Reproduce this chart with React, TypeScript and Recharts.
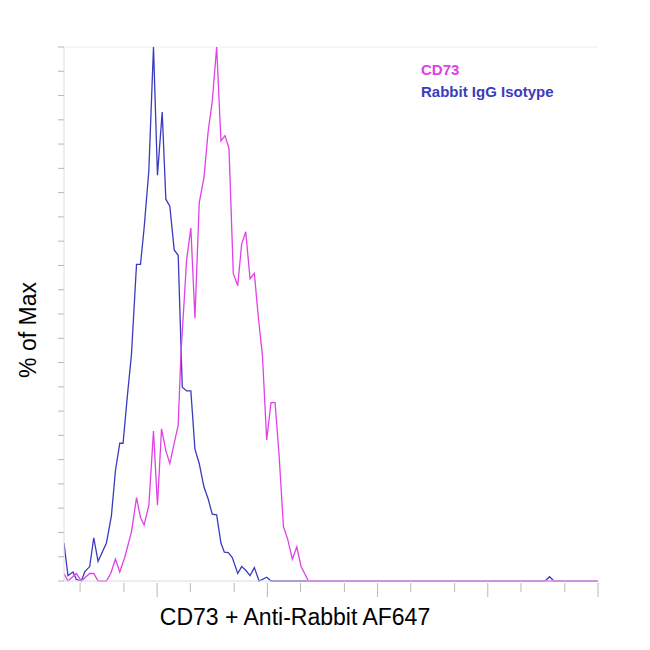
import { LineChart, Line, XAxis, YAxis, ReferenceLine } from 'recharts';

// x is log10 of fluorescence intensity, y is % of max
const isotypeX = [1.155, 1.191, 1.237, 1.267, 1.313, 1.343, 1.388, 1.425, 1.464, 1.54, 1.585, 1.622, 1.661, 1.691, 1.731, 1.767, 1.813, 1.849, 1.882, 1.925, 1.967, 2.003, 2.046, 2.079, 2.115, 2.155, 2.191, 2.228, 2.267, 2.306, 2.343, 2.382, 2.425, 2.464, 2.5, 2.54, 2.579, 2.61, 2.646, 2.682, 2.731, 2.767, 2.804, 2.843, 2.882, 2.925, 2.994, 3.033, 5.52, 5.56, 5.6, 6.0];
const isotypeY = [7.1, 1.0, 1.7, 0.3, 0, 1.7, 2.7, 8.1, 3.7, 7.1, 12.2, 20.7, 25.8, 25.8, 34.9, 42.4, 59.3, 59.3, 66.1, 76.9, 100, 76.0, 87.8, 71.5, 70.2, 62.0, 61.0, 36.3, 35.6, 35.6, 24.7, 22.0, 17.6, 15.3, 12.5, 12.4, 7.1, 5.4, 5.3, 4.4, 1.4, 2.7, 2.0, 1.0, 2.5, 0, 0.7, 0, 0, 0.8, 0, 0];

const cd73X = [1.155, 1.191, 1.267, 1.313, 1.388, 1.425, 1.464, 1.54, 1.579, 1.622, 1.661, 1.706, 1.767, 1.813, 1.849, 1.882, 1.925, 1.967, 2.003, 2.04, 2.079, 2.115, 2.155, 2.191, 2.216, 2.267, 2.306, 2.343, 2.382, 2.425, 2.464, 2.5, 2.54, 2.579, 2.616, 2.652, 2.691, 2.731, 2.767, 2.804, 2.843, 2.882, 2.919, 2.955, 2.994, 3.033, 3.07, 3.107, 3.146, 3.185, 3.227, 3.267, 3.306, 3.373, 6.0];
const cd73Y = [1.4, 0, 1.4, 0, 1.4, 1.4, 0, 0, 1.4, 4.1, 1.7, 4.4, 9.2, 15.6, 11.9, 10.5, 14.2, 28.1, 14.2, 28.5, 24.4, 22.0, 25.8, 29.2, 42.4, 60.0, 66.1, 49.2, 70.8, 75.6, 84.4, 89.8, 100, 82.4, 83.4, 81.0, 57.6, 55.3, 63.1, 65.4, 56.6, 57.6, 49.2, 42.4, 26.4, 33.4, 33.4, 23.4, 10.2, 7.8, 4.1, 6.4, 2.7, 0, 0];

const isotypeData = isotypeX.map((x, i) => ({ x, y: isotypeY[i] }));
const cd73Data = cd73X.map((x, i) => ({ x, y: cd73Y[i] }));

// log decade ticks: majors at 2..6, minors at each k*10^d
const xTicks: number[] = [];
for (let d = 1; d <= 5; d++) {
  for (let k = 1; k <= 9; k++) {
    const t = d + Math.log10(k);
    if (t >= 1.155 && t <= 6) xTicks.push(+t.toFixed(4));
  }
}
xTicks.push(6);
const yTicks = Array.from({ length: 23 }, (_, i) => +((i * 100) / 22).toFixed(3));

const colors = {
  cd73: '#e040e6',
  isotype: '#3b3bbf',
  axis: '#dcdcdc',
  tick: '#b8b8b8',
};

const XTick = ({ x, y, payload }: any) => {
  const major = Math.abs(payload.value - Math.round(payload.value)) < 0.001;
  return <line x1={x} x2={x} y1={y - 6} y2={y + (major ? 8 : 3)} stroke={colors.tick} strokeWidth={1} />;
};

const YTick = ({ x, y }: any) => (
  <line x1={x + 2} x2={x + 8} y1={y} y2={y} stroke={colors.tick} strokeWidth={1} />
);

export default function App() {
  return (
    <div style={{ position: 'absolute', left: 0, top: 0, width: 650, height: 650, background: '#fff', fontFamily: 'Arial, "Liberation Sans", sans-serif' }}>
      <LineChart width={650} height={650} data={isotypeData} margin={{ top: 47, right: 52, bottom: 68, left: 63 }}>
        <XAxis dataKey="x" type="number" domain={[1.155, 6]} ticks={xTicks} tick={<XTick />} tickLine={false} axisLine={{ stroke: colors.axis }} allowDataOverflow height={1} />
        <YAxis type="number" domain={[0, 100]} ticks={yTicks} tick={<YTick />} tickLine={false} axisLine={{ stroke: colors.axis }} width={1} />
        <ReferenceLine y={100} stroke="#eeeeee" />
        <Line data={isotypeData} dataKey="y" type="linear" stroke={colors.isotype} strokeWidth={1.3} dot={false} isAnimationActive={false} />
        <Line data={cd73Data} dataKey="y" type="linear" stroke={colors.cd73} strokeWidth={1.3} dot={false} isAnimationActive={false} />
      </LineChart>
      <div style={{ position: 'absolute', left: 421, top: 61, fontSize: 15, fontWeight: 'bold', color: colors.cd73 }}>CD73</div>
      <div style={{ position: 'absolute', left: 421, top: 83, fontSize: 15, fontWeight: 'bold', color: colors.isotype }}>Rabbit IgG Isotype</div>
      <div style={{ position: 'absolute', left: 0, width: 590, top: 604, fontSize: 23, textAlign: 'center', color: '#000' }}>CD73 + Anti-Rabbit AF647</div>
      <div style={{ position: 'absolute', left: 28, top: 330, fontSize: 23, color: '#000', transform: 'translate(-50%, -50%) rotate(-90deg)', whiteSpace: 'nowrap' }}>% of Max</div>
    </div>
  );
}
